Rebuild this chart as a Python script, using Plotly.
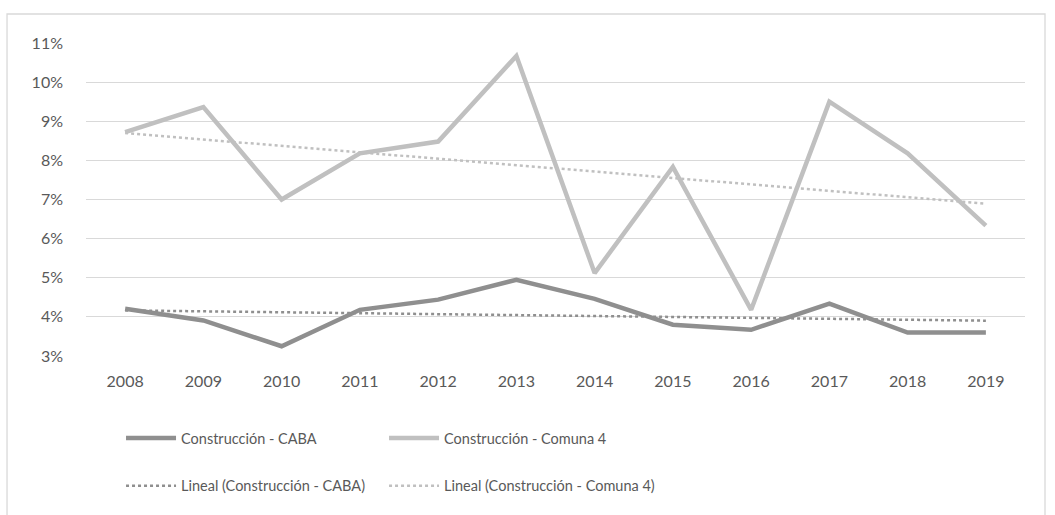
import numpy as np
import plotly.graph_objects as go

years = ["2008", "2009", "2010", "2011", "2012", "2013", "2014", "2015", "2016", "2017", "2018", "2019"]
caba = [4.21, 3.91, 3.25, 4.18, 4.44, 4.95, 4.46, 3.80, 3.67, 4.34, 3.60, 3.60]
comuna4 = [8.72, 9.36, 7.00, 8.18, 8.48, 10.67, 5.12, 7.83, 4.18, 9.50, 8.18, 6.33]
y_ticks = [3, 4, 5, 6, 7, 8, 9, 10, 11]

idx = np.arange(len(years))
def trend(vals):
    m, b = np.polyfit(idx, np.array(vals) / 100.0, 1)
    return list(m * idx + b)

caba_f = [v / 100.0 for v in caba]
com_f = [v / 100.0 for v in comuna4]

FONT = "Lato, sans-serif"
TXT = "#595959"

fig = go.Figure()
fig.add_trace(go.Scatter(x=years, y=caba_f, mode="lines", name="Construcción - CABA",
                         line=dict(color="#8f8f8f", width=4.5), legend="legend", showlegend=True))
fig.add_trace(go.Scatter(x=years, y=com_f, mode="lines", name="Construcción - Comuna 4",
                         line=dict(color="#c0c0c0", width=4.5), legend="legend2", showlegend=True))
fig.add_trace(go.Scatter(x=years, y=trend(caba), mode="lines", name="Lineal (Construcción - CABA)",
                         line=dict(color="#8f8f8f", width=2.5, dash="dot"), legend="legend3", showlegend=True))
fig.add_trace(go.Scatter(x=years, y=trend(comuna4), mode="lines", name="Lineal (Construcción - Comuna 4)",
                         line=dict(color="#c0c0c0", width=2.5, dash="dot"), legend="legend4", showlegend=True))

leg_common = dict(orientation="h", xanchor="left", yanchor="middle",
                  font=dict(family=FONT, size=14.5, color=TXT),
                  itemwidth=50, bgcolor="rgba(0,0,0,0)", visible=True)
col1, col2 = 0.0373, 0.3174
row1, row2 = -0.262, -0.415

fig.update_layout(
    width=1055, height=515,
    showlegend=True,
    margin=dict(l=86, r=30, t=43, b=159),
    paper_bgcolor="white", plot_bgcolor="white",
    font=dict(family=FONT, size=16, color=TXT),
    xaxis=dict(type="category", range=[-0.5, 11.5], showgrid=False, showline=False, ticks="",
               tickfont=dict(family=FONT, size=16, color=TXT), zeroline=False,
               ticklabelstandoff=14),
    yaxis=dict(range=[0.03, 0.11], tickvals=[t / 100.0 for t in y_ticks],
               ticktext=[f"{t}%" for t in y_ticks], showgrid=True, gridcolor="#d9d9d9",
               gridwidth=1.3, zeroline=False, showline=False, ticks="",
               tickfont=dict(family=FONT, size=16, color=TXT), ticklabelstandoff=22),
    legend=dict(x=col1, y=row1, **leg_common),
    legend2=dict(x=col2, y=row1, **leg_common),
    legend3=dict(x=col1, y=row2, **leg_common),
    legend4=dict(x=col2, y=row2, **leg_common),
    shapes=[dict(type="rect", xref="paper", yref="paper", x0=-0.0841, x1=1.0213, y0=-0.53, y1=1.0927,
                 line=dict(color="#d9d9d9", width=1.3), fillcolor="rgba(0,0,0,0)", layer="below")],
)

fig.write_html("out.html", config={"displayModeBar": False},
               post_script="document.body.style.margin='0';document.body.style.overflow='hidden';")
